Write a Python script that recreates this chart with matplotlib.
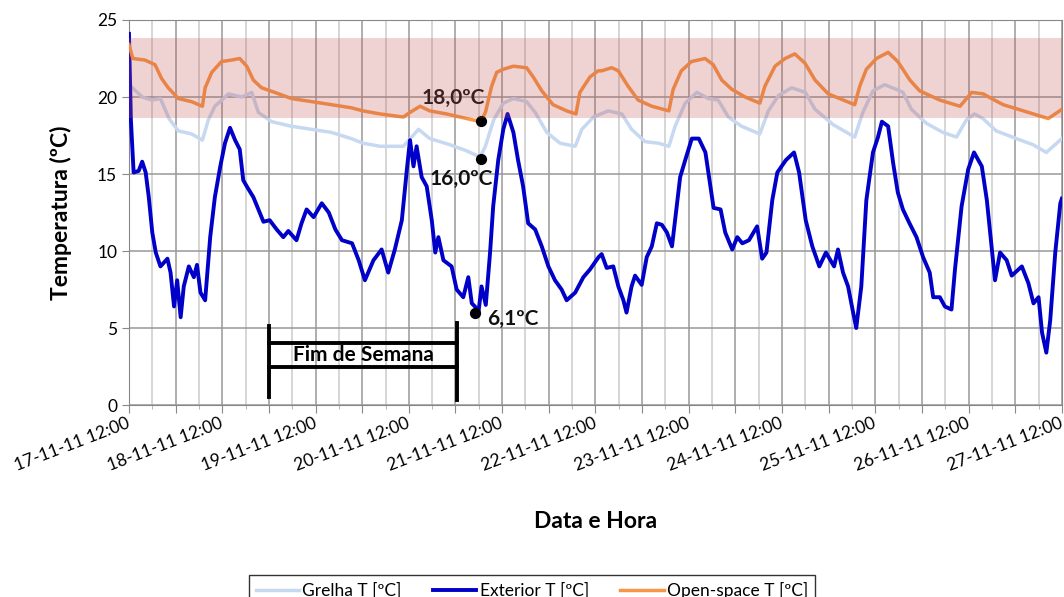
import numpy as np
import matplotlib.pyplot as plt

plt.rcParams['font.family'] = ['Lato', 'DejaVu Sans']

# horas desde 17-11-11 12:00
h_open = [0, 1, 4.1, 6.7, 8.4, 10.1, 12.7, 16.1, 18.9, 19.6, 21.3, 23.8, 26.4, 28.5, 30.3, 32, 34.1,
          37.5, 41.8, 47, 52.1, 57.2, 60.2, 64.6, 70.6, 72.3, 74.9, 77.4, 81.7, 86.9, 90.5, 91.7,
          93.3, 94.6, 96.3, 98.9, 102.3, 104, 106.2, 109.1, 112.6, 115, 116, 118.6, 120.7, 121.6,
          124.2, 125.9, 128.4, 131, 134.5, 138.9, 140, 142.1, 144.7, 148.2, 150.3, 152.5, 155.1,
          158.5, 162.3, 163.6, 166.2, 168.8, 171.3, 173.9, 176.5, 179.9, 186.7, 188, 189.7, 192.3,
          195.3, 197.8, 200.9, 203.4, 208.6, 213.8, 216.8, 219.8, 221.9, 224.9, 230.1, 236.5, 240]
t_open = [23.4, 22.5, 22.4, 22.1, 21.2, 20.6, 19.9, 19.7, 19.4, 20.6, 21.6, 22.3, 22.4, 22.5, 22.0,
          21.1, 20.6, 20.3, 19.9, 19.7, 19.5, 19.3, 19.1, 18.9, 18.7, 19.0, 19.4, 19.1, 18.9, 18.6,
          18.4, 19.0, 20.7, 21.6, 21.8, 22.0, 21.9, 21.3, 20.4, 19.5, 19.1, 18.9, 20.3, 21.3, 21.7,
          21.7, 21.9, 21.7, 20.7, 19.8, 19.4, 19.1, 20.5, 21.7, 22.3, 22.5, 22.1, 21.1, 20.5, 20.0,
          19.6, 20.7, 22.0, 22.5, 22.8, 22.2, 21.1, 20.2, 19.5, 20.7, 21.8, 22.5, 22.9, 22.3, 21.1,
          20.4, 19.8, 19.4, 20.3, 20.2, 19.9, 19.5, 19.1, 18.6, 19.2]

h_grelha = [0, 3.4, 5.9, 8.1, 10.3, 12.7, 16.1, 18.9, 20.4, 22.1, 25.6, 29, 31.6, 33.3, 36.7, 41.8,
            47, 52.1, 57.2, 60.2, 64.6, 70.6, 74.5, 77.4, 82.6, 86.9, 90.3, 91.7, 93.8, 96.3, 98.9,
            102.3, 104.5, 107.5, 110.9, 114.8, 116.5, 119.5, 123.3, 126.8, 129.3, 132.8, 136.2,
            138.9, 140.5, 143.1, 146.1, 149.1, 151.6, 154.2, 157.6, 162.3, 164.5, 167.1, 170.5,
            174, 176.5, 181.2, 186.7, 188.8, 191.4, 194.4, 197.4, 199.1, 201.3, 205.1, 209.4,
            212.9, 215.4, 217.5, 219.7, 223.1, 228.3, 232.6, 236, 240]
t_grelha = [20.8, 20.0, 19.8, 19.9, 18.6, 17.8, 17.6, 17.2, 18.5, 19.4, 20.2, 20.0, 20.3, 19.0, 18.4,
            18.1, 17.9, 17.7, 17.3, 17.0, 16.8, 16.8, 17.9, 17.3, 16.9, 16.5, 16.1, 16.8, 18.5, 19.6,
            19.9, 19.7, 19.0, 17.7, 17.0, 16.8, 17.9, 18.7, 19.1, 18.9, 17.9, 17.1, 17.0, 16.8, 18.1,
            19.6, 20.3, 19.9, 19.8, 18.7, 18.1, 17.6, 19.1, 20.1, 20.6, 20.3, 19.2, 18.2, 17.4, 19.0,
            20.4, 20.8, 20.5, 20.3, 19.2, 18.3, 17.7, 17.4, 18.5, 18.9, 18.6, 17.8, 17.3, 16.9, 16.4,
            17.3]

h_ext = [0, 0.5, 1.2, 2.5, 3.4, 4.3, 5.1, 6.0, 6.9, 8.1, 9.9, 10.7, 11.6, 12.4, 13.3, 14.1, 15.4,
         16.7, 17.5, 18.4, 19.6, 20.9, 22.1, 23.5, 24.7, 26.0, 27.3, 28.5, 29.4, 30.3, 32, 33.3,
         34.6, 36.2, 38.0, 39.7, 41.0, 43.1, 44.4, 45.7, 47.5, 49.6, 51.4, 53.1, 54.8, 57.4, 59.1,
         60.7, 62.9, 65.0, 66.7, 68.4, 70.2, 71.5, 72.3, 73.2, 74.0, 75.3, 76.6, 77.9, 78.8, 79.6,
         80.9, 83.0, 84.3, 86.0, 87.3, 88.2, 89.0, 89.9, 90.7, 91.8, 92.9, 93.7, 95.0, 96.3, 97.4,
         98.9, 100.1, 101.4, 102.7, 104.5, 106.2, 107.9, 109.6, 111.3, 112.6, 114.8, 116.9, 118.6,
         120.8, 121.6, 122.9, 124.6, 125.9, 127.2, 128.0, 129.3, 130.2, 131.9, 133.2, 134.5, 135.8,
         137.1, 138.4, 139.7, 140.5, 141.8, 143.1, 144.8, 146.6, 148.3, 149.6, 150.4, 152.2, 153.4,
         155.2, 156.5, 157.8, 159.5, 161.6, 162.9, 164.0, 165.5, 166.8, 169.0, 171.1, 172.4, 174.1,
         175.8, 177.6, 179.3, 181.4, 182.4, 183.7, 185.0, 186.3, 187.1, 188.4, 189.7, 191.4, 192.7,
         193.7, 195.3, 196.6, 197.8, 199.1, 200.8, 202.6, 204.3, 206.0, 206.9, 208.6, 209.9, 211.6,
         212.5, 214.2, 215.9, 217.4, 219.4, 220.7, 221.9, 222.8, 224.1, 225.8, 227.1, 229.7, 231.4,
         232.7, 234.0, 234.9, 236.0, 237.0, 238.3, 239.6, 240]
t_ext = [24.1, 18.5, 15.1, 15.2, 15.8, 15.1, 13.5, 11.2, 9.9, 9.0, 9.5, 8.6, 6.4, 8.1, 5.7, 7.7, 9.0,
         8.3, 9.1, 7.3, 6.8, 10.9, 13.5, 15.5, 17.0, 18.0, 17.2, 16.6, 14.6, 14.2, 13.5, 12.7, 11.9,
         12.0, 11.4, 10.9, 11.3, 10.7, 11.8, 12.7, 12.2, 13.1, 12.5, 11.4, 10.7, 10.5, 9.4, 8.1, 9.4,
         10.1, 8.6, 10.1, 12.0, 15.3, 17.2, 15.5, 16.8, 14.8, 14.2, 12.0, 9.9, 10.9, 9.4, 9.0, 7.5,
         7.0, 8.3, 6.6, 6.4, 6.0, 7.7, 6.5, 9.9, 12.9, 15.9, 17.9, 18.9, 17.7, 15.9, 14.2, 11.8, 11.4,
         10.3, 9.0, 8.1, 7.5, 6.8, 7.3, 8.3, 8.8, 9.6, 9.8, 8.9, 9.0, 7.7, 6.8, 6.0, 7.7, 8.4, 7.8,
         9.6, 10.3, 11.8, 11.7, 11.2, 10.3, 12.0, 14.8, 15.9, 17.3, 17.3, 16.4, 14.2, 12.8, 12.7,
         11.2, 10.1, 10.9, 10.5, 10.7, 11.6, 9.5, 9.9, 13.3, 15.1, 15.9, 16.4, 15.1, 12.0, 10.3, 9.0,
         9.9, 9.0, 10.1, 8.6, 7.7, 6.0, 5.0, 7.7, 13.3, 16.4, 17.4, 18.4, 18.1, 15.7, 13.8, 12.7,
         11.8, 10.9, 9.6, 8.6, 7.0, 7.0, 6.4, 6.2, 8.8, 12.9, 15.3, 16.4, 15.5, 13.3, 10.3, 8.1, 9.9,
         9.4, 8.4, 9.0, 7.9, 6.6, 7.0, 4.7, 3.4, 5.5, 9.9, 13.1, 13.4]

x_labels = ['17-11-11 12:00', '18-11-11 12:00', '19-11-11 12:00', '20-11-11 12:00',
            '21-11-11 12:00', '22-11-11 12:00', '23-11-11 12:00', '24-11-11 12:00',
            '25-11-11 12:00', '26-11-11 12:00', '27-11-11 12:00']

# pontos assinalados (hora, temperatura, texto)
pontos_h = [90.5, 90.5, 89.0]
pontos_t = [18.45, 15.95, 5.95]
pontos_txt = ['18,0ºC', '16,0ºC', '6,1ºC']

conforto = (18.65, 23.8)
fim_semana = (36, 84.4)

fig = plt.figure(figsize=(10.64, 5.97), dpi=100)
ax = fig.add_axes([0.1212, 0.3216, 0.8768, 0.6449])

l1, = ax.plot(h_grelha, t_grelha, color='#c6d9f1', lw=2.5, zorder=3)
l2, = ax.plot(h_ext, t_ext, color='#0000c8', lw=2.8, zorder=4)
l3, = ax.plot(h_open, t_open, color='#f79646', lw=2.5, zorder=5)

# banda de conforto por cima das linhas
ax.axhspan(conforto[0], conforto[1], color='#c0504d', alpha=0.25, lw=0, zorder=7)

ax.scatter(pontos_h, pontos_t, s=50, color='black', zorder=6)
ax.text(91.6, 19.3, pontos_txt[0], ha='right', va='bottom',
        fontsize=15, fontweight='bold', color='#111111', zorder=6)
ax.text(77.4, 15.3, pontos_txt[1], ha='left', va='top',
        fontsize=15, fontweight='bold', color='#111111', zorder=6)
ax.text(92.1, 5.6, pontos_txt[2], ha='left', va='center',
        fontsize=15, fontweight='bold', color='#111111', zorder=6)

# fim de semana
a, b = fim_semana
ax.plot([a, a], [0.5, 5.1], color='black', lw=2.8, zorder=6)
ax.plot([b, b], [0.3, 5.3], color='black', lw=2.8, zorder=6)
ax.plot([a, b], [4.0, 4.0], color='black', lw=2.8, zorder=6)
ax.plot([a, b], [2.5, 2.5], color='black', lw=2.8, zorder=6)
ax.text((a + b) / 2, 3.25, 'Fim de Semana', ha='center', va='center', fontsize=15,
        fontweight='bold', zorder=6)

ax.set_xlim(0, 240)
ax.set_ylim(0, 25)
ax.set_xticks(np.arange(0, 241, 12))
ax.set_xticks(np.arange(0, 241, 6), minor=True)
ax.set_xticklabels([])
# etiquetas das datas (rodadas), ligeiramente à esquerda de cada marca
for i, lab in enumerate(x_labels):
    ax.annotate(lab, xy=(24 * i, 0), xycoords=('data', 'axes fraction'),
                xytext=(-2, -7), textcoords='offset points', rotation=21,
                ha='right', va='top', rotation_mode='anchor', fontsize=12.5)
ax.set_yticks(np.arange(0, 26, 5))
ax.tick_params(axis='y', labelsize=12.5, length=5, color='#888888')
ax.tick_params(axis='x', which='major', length=6, color='#888888')
ax.tick_params(axis='x', which='minor', length=3, color='#aaaaaa')
ax.grid(True, which='major', color='#999999', lw=1.1, zorder=0)
ax.grid(True, which='minor', axis='x', color='#cccccc', lw=1.1, zorder=0)
ax.set_axisbelow(True)
for s in ax.spines.values():
    s.set_color('#888888')

ax.set_xlabel('Data e Hora', fontsize=16.5, fontweight='bold')
ax.xaxis.set_label_coords(0.5, -0.275)
ax.set_ylabel('Temperatura (ºC)', fontsize=16.5, fontweight='bold', labelpad=18)

leg = fig.legend([l1, l2, l3], ['Grelha T [ºC]', 'Exterior T [ºC]', 'Open-space T [ºC]'],
                 loc='upper center', bbox_to_anchor=(0.5, 1 - 566 / 597), ncol=3,
                 fontsize=12.5, frameon=True, fancybox=False, edgecolor='black',
                 handlelength=2.5, handletextpad=0.2, columnspacing=1.8, borderpad=0.4)
leg.get_frame().set_linewidth(1.0)

fig.savefig('out.png', dpi=100)
